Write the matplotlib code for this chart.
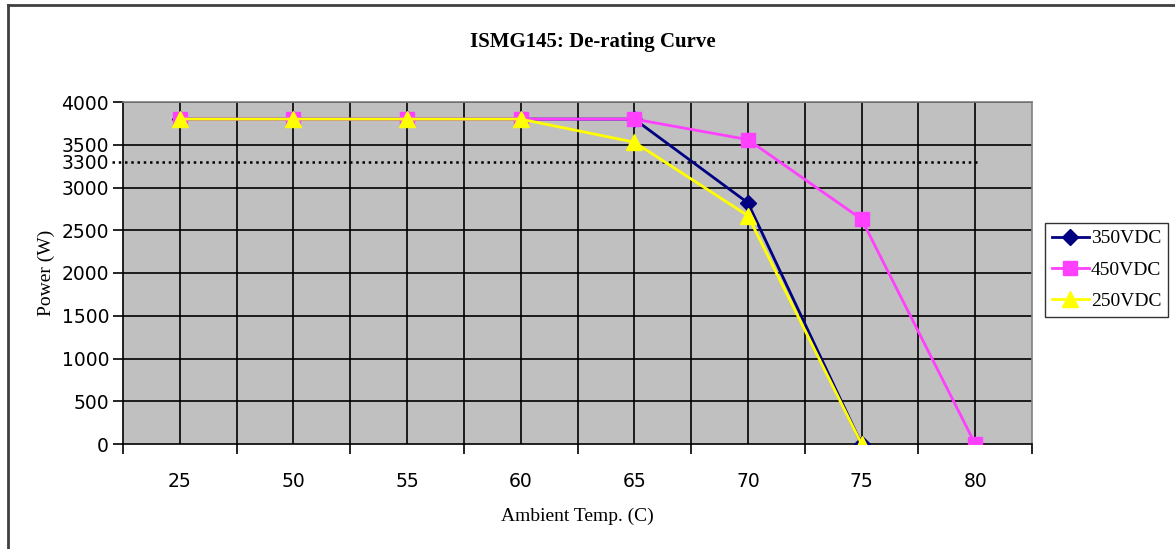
import matplotlib
matplotlib.use("Agg")
import matplotlib.pyplot as plt
from matplotlib.lines import Line2D

# Data
temps = ["25", "50", "55", "60", "65", "70", "75", "80"]
p_350 = [3800, 3800, 3800, 3800, 3800, 2820, 0]
p_450 = [3800, 3800, 3800, 3800, 3800, 3560, 2630, 0]
p_250 = [3800, 3800, 3800, 3800, 3530, 2670, 0]
limit_w = 3300
y_ticks = [0, 500, 1000, 1500, 2000, 2500, 3000, 3300, 3500, 4000]

serif = ["Liberation Serif", "DejaVu Serif"]
sans = ["DejaVu Sans"]

fig = plt.figure(figsize=(11.75, 5.49), dpi=100)
ax = fig.add_axes([123 / 1175, 1 - 444 / 549, (1032 - 123) / 1175, (444 - 102) / 549])
ax.set_facecolor("#C0C0C0")

n = len(temps)
ax.set_xlim(-0.5, n - 0.5)
ax.set_ylim(0, 4000)

# grid at category centres and boundaries
for i in range(n):
    ax.axvline(i, color="black", lw=1.2, zorder=1)
for i in range(1, n):
    ax.axvline(i - 0.5, color="black", lw=1.2, zorder=1)
for v in range(500, 4001, 500):
    ax.axhline(v, color="black", lw=1.2, zorder=1)

# rated power reference
ax.plot([-0.6, 7.04], [limit_w, limit_w], color="black", lw=1.8,
        linestyle=(0, (1, 1.5)), clip_on=False, zorder=2)

ax.plot(range(len(p_350)), p_350, color="#000080", lw=2, marker="D",
        markersize=8, markeredgecolor="#000080", label="350VDC", zorder=3)
ax.plot(range(len(p_450)), p_450, color="#FF40FF", lw=2, marker="s",
        markersize=10, markeredgecolor="#FF40FF", label="450VDC", zorder=4)
ax.plot(range(len(p_250)), p_250, color="#FFFF00", lw=2, marker="^",
        markersize=11, markeredgecolor="#FFFF00", label="250VDC", zorder=5)

# axes styling
for side in ["top", "right"]:
    ax.spines[side].set_color("#808080")
    ax.spines[side].set_linewidth(1.2)
for side in ["left", "bottom"]:
    ax.spines[side].set_color("black")
    ax.spines[side].set_linewidth(1.2)

ax.set_xticks(range(n))
ax.set_xticklabels(temps, fontfamily=sans, fontsize=13.5)
ax.tick_params(axis="x", length=0, pad=20)
ax.set_xticks([i - 0.5 for i in range(n + 1)], minor=True)
ax.tick_params(axis="x", which="minor", length=7, width=1.2, direction="out", color="black")

ax.set_yticks(y_ticks)
ax.set_yticklabels([str(v) for v in y_ticks], fontfamily=sans, fontsize=13.5)
ax.tick_params(axis="y", length=7, width=1.2, direction="out", pad=3)
for t, v in zip(ax.yaxis.get_major_ticks(), y_ticks):
    if v == limit_w:
        t.tick1line.set_visible(False)

ax.set_xlabel("Ambient Temp. (C)", fontfamily=serif, fontsize=14, labelpad=12)
ax.set_ylabel("Power (W)", fontfamily=serif, fontsize=14, labelpad=5)
fig.text(593 / 1175, 1 - 42 / 549, "ISMG145: De-rating Curve", ha="center", va="center",
         fontfamily=serif, fontsize=15, fontweight="bold")

leg = fig.legend(loc="upper left", bbox_to_anchor=(1045 / 1175, 1 - 223 / 549),
                 prop={"family": serif, "size": 14}, frameon=True, fancybox=False,
                 edgecolor="black", borderpad=0.35, labelspacing=0.7,
                 handlelength=1.9, handletextpad=0.1, borderaxespad=0)
leg.get_frame().set_linewidth(1.0)

# outer chart border (left and top edges)
fig.add_artist(Line2D([7.5 / 1175, 7.5 / 1175], [0, 1 - 5 / 549], color="#404040", lw=2,
                      transform=fig.transFigure))
fig.add_artist(Line2D([7.5 / 1175, 1], [1 - 5 / 549, 1 - 5 / 549], color="#404040", lw=2,
                      transform=fig.transFigure))

fig.savefig("out.png", dpi=100, facecolor="white")
